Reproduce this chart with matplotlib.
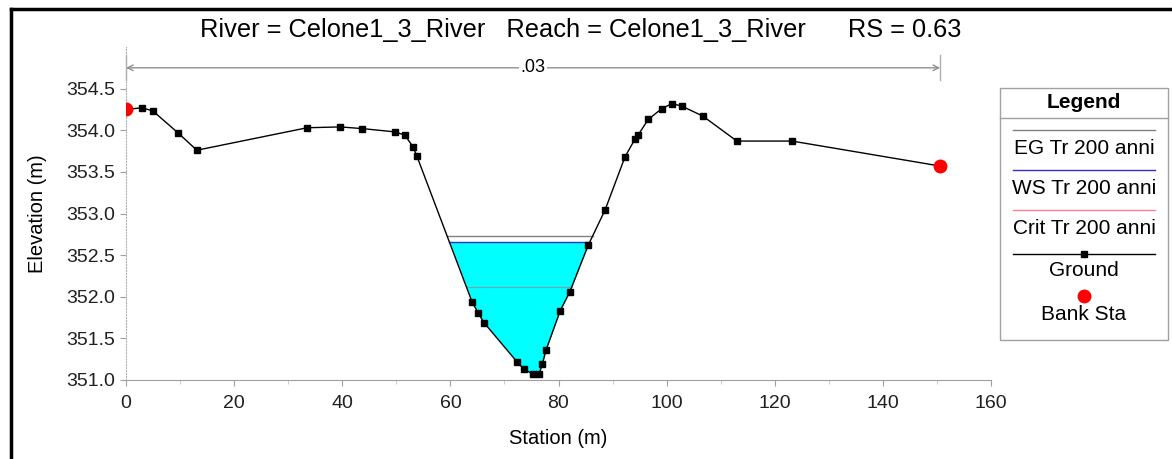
import matplotlib
matplotlib.use('Agg')
import matplotlib.pyplot as plt
import numpy as np

plt.rcParams['font.family'] = ['Liberation Sans', 'DejaVu Sans']

# ground profile (station m, elevation m)
station = [0.0, 3.0, 5.0, 9.6, 13.1, 33.5, 39.6, 43.7, 49.8, 51.6, 53.1, 53.8,
           64.0, 65.1, 66.2, 72.3, 73.6, 75.3, 76.4, 77.0, 77.7, 80.3, 82.1,
           85.5, 88.6, 92.3, 94.2, 94.7, 96.6, 99.1, 101.0, 102.8, 106.7,
           113.0, 123.2, 150.6]
elevation = [354.25, 354.27, 354.23, 353.97, 353.76, 354.03, 354.04, 354.02,
             353.98, 353.94, 353.80, 353.69, 351.94, 351.81, 351.69, 351.22,
             351.13, 351.07, 351.07, 351.19, 351.36, 351.83, 352.06, 352.62,
             353.04, 353.68, 353.90, 353.94, 354.13, 354.26, 354.32, 354.29,
             354.17, 353.87, 353.87, 353.57]
bank_sta = [0.0, 150.6]
bank_elev = [354.25, 353.57]

eg_elev = 352.73
ws_elev = 352.66
crit_elev = 352.12
n_value = '.03'
n_line_elev = 354.75

title = 'River = Celone1_3_River   Reach = Celone1_3_River      RS = 0.63'
legend_labels = ['EG Tr 200 anni', 'WS Tr 200 anni', 'Crit Tr 200 anni',
                 'Ground', 'Bank Sta']

x = np.array(station)
y = np.array(elevation)


def crossings(level):
    # stations where the ground crosses a level (left and right of the channel)
    pts = []
    for i in range(len(x) - 1):
        y0, y1 = y[i], y[i + 1]
        if (y0 - level) * (y1 - level) < 0:
            pts.append(x[i] + (level - y0) / (y1 - y0) * (x[i + 1] - x[i]))
    return pts[0], pts[-1]


fig = plt.figure(figsize=(11.72, 4.59), dpi=100)
ax = fig.add_axes([126 / 1172, 1 - 380 / 459, (991 - 126) / 1172, (380 - 47) / 459])

# water fill
wl, wr = crossings(ws_elev)
xf = np.linspace(wl, wr, 600)
yf = np.interp(xf, x, y)
ax.fill_between(xf, yf, ws_elev, where=yf <= ws_elev, color='#00ffff', lw=0, zorder=1)

el, er = crossings(eg_elev)
ax.plot([el, er], [eg_elev, eg_elev], color='#808080', lw=1, zorder=2)
ax.plot([wl, wr], [ws_elev, ws_elev], color='#3030c0', lw=1, zorder=2)
cl, cr = crossings(crit_elev)
ax.plot([cl, cr], [crit_elev, crit_elev], color='#ff4060', lw=0.8, alpha=0.5, zorder=2)

ax.plot(x, y, color='black', lw=1, marker='s', ms=4.5, zorder=3)
ax.plot(bank_sta, bank_elev, ls='none', marker='o', color='#ff0000', ms=9, zorder=4)

# manning n line
ax.annotate('', xy=(bank_sta[0], n_line_elev), xytext=(bank_sta[1], n_line_elev),
            arrowprops=dict(arrowstyle='<->', color='#909090', lw=1, shrinkA=0, shrinkB=0),
            annotation_clip=False)
for bs in bank_sta:
    ax.plot([bs, bs], [n_line_elev - 0.15, n_line_elev + 0.15], color='#b0b0b0', lw=1,
            clip_on=False)
ax.text(sum(bank_sta) / 2, n_line_elev, n_value, ha='center', va='center', fontsize=13,
        bbox=dict(facecolor='white', edgecolor='none', pad=1))

ax.set_xlim(0, 160)
ax.set_ylim(351, 355)
ax.set_xticks(np.arange(0, 161, 20))
ax.set_xticks(np.arange(0, 161, 10), minor=True)
ax.set_yticks(np.arange(351, 354.6, 0.5))
ax.set_yticklabels(['%.1f' % v for v in np.arange(351, 354.6, 0.5)])
ax.tick_params(labelsize=14, colors='#a0a0a0', labelcolor='#202020', length=4)
ax.tick_params(axis='x', pad=7)
ax.tick_params(which='minor', colors='#c0c0c0', length=3)
for s in ['top', 'right']:
    ax.spines[s].set_visible(False)
ax.spines['bottom'].set_color('#a0a0a0')
ax.spines['left'].set_color('#b0b0b0')
ax.spines['left'].set_linestyle(':')
ax.set_xlabel('Station (m)', fontsize=14.5, labelpad=12)
ax.set_ylabel('Elevation (m)', fontsize=14.5, labelpad=14)

fig.text(581 / 1172, 1 - 30 / 459, title, ha='center', va='center', fontsize=18.3)

# outer frame
fig.add_artist(plt.Line2D([11 / 1172, 11 / 1172], [0, 1 - 9 / 459], color='black', lw=2.5))
fig.add_artist(plt.Line2D([11 / 1172, 1], [1 - 9 / 459, 1 - 9 / 459], color='black', lw=2.5))

# legend box, HEC-RAS style
lx0, lx1, ly0, ly1 = 1000, 1168, 88, 340
def fx(p):
    return p / 1172
def fy(p):
    return 1 - p / 459
fig.add_artist(plt.Rectangle((fx(lx0), fy(ly1)), fx(lx1 - lx0), (ly1 - ly0) / 459,
                             fill=False, edgecolor='#a0a0a0', lw=1))
fig.add_artist(plt.Line2D([fx(lx0), fx(lx1)], [fy(118), fy(118)], color='#a0a0a0', lw=1))
fig.text(fx(1084), fy(103), 'Legend', ha='center', va='center', fontsize=15, fontweight='bold')
line_cols = ['#808080', '#3030c0', '#ff8090']
line_y = [130, 170, 210]
text_y = [149, 189, 229]
for c, ly, ty, lab in zip(line_cols, line_y, text_y, legend_labels[:3]):
    fig.add_artist(plt.Line2D([fx(1013), fx(1155)], [fy(ly), fy(ly)], color=c, lw=1))
    fig.text(fx(1084), fy(ty), lab, ha='center', va='center', fontsize=15)
fig.add_artist(plt.Line2D([fx(1013), fx(1155)], [fy(254), fy(254)], color='black', lw=1))
fig.add_artist(plt.Line2D([fx(1084)], [fy(254)], color='black', marker='s', ms=4.5))
fig.text(fx(1084), fy(271), legend_labels[3], ha='center', va='center', fontsize=15)
fig.add_artist(plt.Line2D([fx(1084)], [fy(296)], color='#ff0000', marker='o', ms=9))
fig.text(fx(1084), fy(314), legend_labels[4], ha='center', va='center', fontsize=15)

fig.savefig('out.png', dpi=100)
